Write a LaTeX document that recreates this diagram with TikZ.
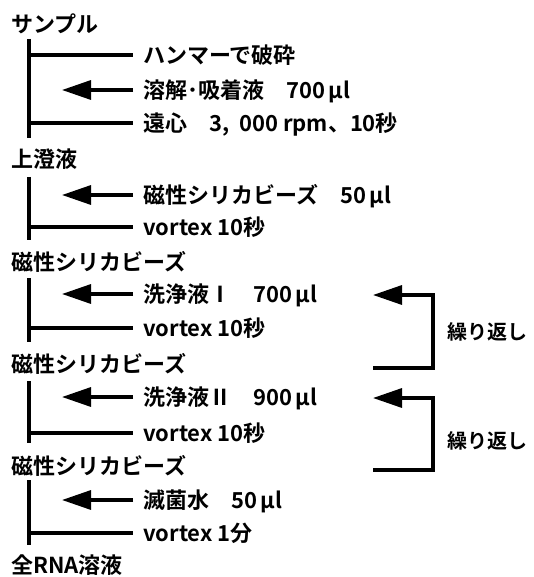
\documentclass[tikz,border=0pt]{standalone}
\usepackage{fontspec}
\setmainfont{Noto Sans CJK JP}[BoldFont={Noto Sans CJK JP Bold}]
\usetikzlibrary{arrows.meta}
\begin{document}
\begin{tikzpicture}[x=1pt,y=-1pt,
  lbl/.style={anchor=west,inner sep=0pt,text height=19pt,text depth=2pt,
    font=\bfseries\fontsize{22}{22}\selectfont},
  small/.style={lbl,text height=17pt,text depth=2pt,font=\bfseries\fontsize{20}{20}\selectfont},
  ln/.style={line width=3.3pt},
  arr/.style={line width=3.3pt,line join=miter,-{Triangle[length=29pt,width=19pt]}}]
\useasboundingbox (0,0) rectangle (534,577);
% main labels
\node[lbl] (s1) at (11,24) {サンプル};
\node[lbl] (s2) at (11,159) {上澄液};
\node[lbl] (s3) at (11,262) {磁性シリカビーズ};
\node[lbl] (s4) at (11,364) {磁性シリカビーズ};
\node[lbl] (s5) at (11,466) {磁性シリカビーズ};
\node[lbl] (s6) at (11,565) {全RNA溶液};
% step labels
\node[lbl] (a1) at (143,55) {ハンマーで破砕};
\node[lbl] (a2) at (143,90) {溶解･吸着液　700\,μl};
\node[lbl] (a3) at (143,123) {遠心　3,\;\,000 rpm、10秒};
\node[lbl] (b1) at (143,195) {磁性シリカビーズ　50\,μl};
\node[lbl] (b2) at (143,227) {vortex 10秒};
\node[lbl] (c1) at (143,294) {洗浄液Ⅰ　700\,μl};
\node[lbl] (c2) at (143,328) {vortex 10秒};
\node[lbl] (d1) at (143,397) {洗浄液Ⅱ　900\,μl};
\node[lbl] (d2) at (143,433) {vortex 10秒};
\node[lbl] (e1) at (143,500) {滅菌水　50\,μl};
\node[lbl] (e2) at (143,533) {vortex 1分};
\node[small] (r1) at (447,332) {繰り返し};
\node[small] (r2) at (447,441) {繰り返し};
% spines
\coordinate (p1t) at (29,39);  \coordinate (p1b) at (29,138);
\coordinate (p2t) at (29,177); \coordinate (p2b) at (29,240);
\coordinate (p3t) at (29,278); \coordinate (p3b) at (29,342);
\coordinate (p4t) at (29,381); \coordinate (p4b) at (29,443);
\coordinate (p5t) at (29,480); \coordinate (p5b) at (29,545);
\foreach \i in {1,...,5} {\draw[ln] (p\i t) -- (p\i b);}
% branch lines (spine to text)
\coordinate (q1) at (29,55);  \draw[ln] (q1) -- ([xshift=-10pt]a1.west);
\coordinate (q3) at (29,123); \draw[ln] (q3) -- ([xshift=-10pt]a3.west);
\coordinate (q5) at (29,227); \draw[ln] (q5) -- ([xshift=-10pt]b2.west);
\coordinate (q7) at (29,328); \draw[ln] (q7) -- ([xshift=-10pt]c2.west);
\coordinate (q9) at (29,433); \draw[ln] (q9) -- ([xshift=-10pt]d2.west);
\coordinate (q11) at (29,533); \draw[ln] (q11) -- ([xshift=-10pt]e2.west);
% added reagents (arrows)
\coordinate (t2) at (62,90);  \draw[arr] ([xshift=-10pt]a2.west) -- (t2);
\coordinate (t4) at (62,195); \draw[arr] ([xshift=-10pt]b1.west) -- (t4);
\coordinate (t6) at (62,294); \draw[arr] ([xshift=-10pt]c1.west) -- (t6);
\coordinate (t8) at (62,397); \draw[arr] ([xshift=-10pt]d1.west) -- (t8);
\coordinate (t10) at (62,500); \draw[arr] ([xshift=-10pt]e1.west) -- (t10);
% repeat brackets
\coordinate (k1a) at (373,368); \coordinate (k1b) at (433,368);
\coordinate (k1c) at (433,295); \coordinate (k1d) at (373,295);
\draw[arr] (k1a) -- (k1b) -- (k1c) -- (k1d);
\coordinate (k2a) at (373,470); \coordinate (k2b) at (433,470);
\coordinate (k2c) at (433,398); \coordinate (k2d) at (373,398);
\draw[arr] (k2a) -- (k2b) -- (k2c) -- (k2d);
\end{tikzpicture}
\end{document}
